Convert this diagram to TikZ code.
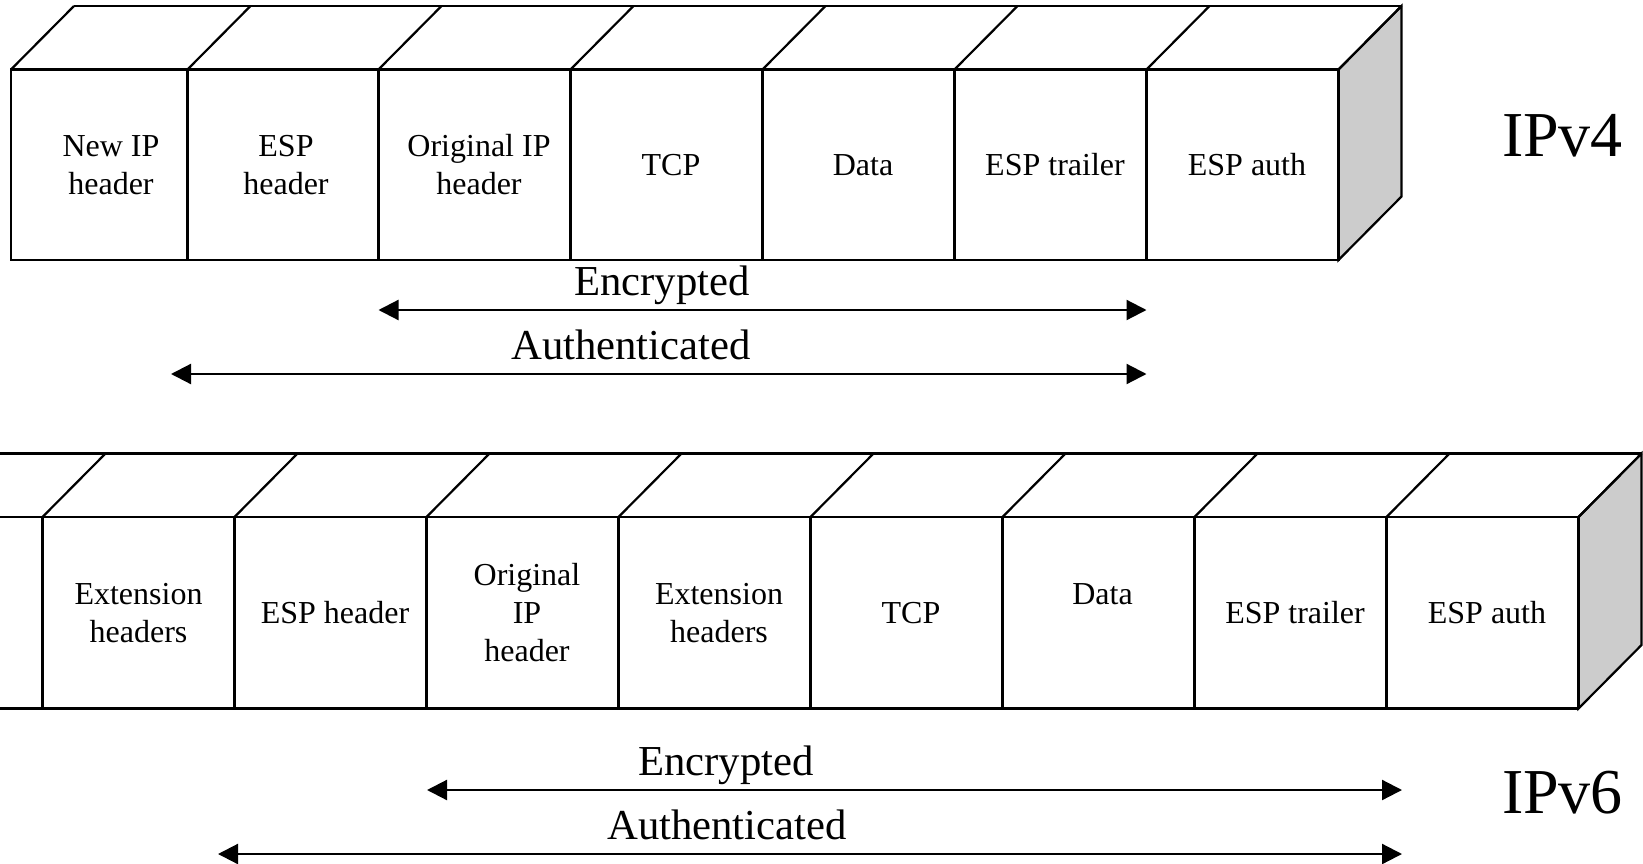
\documentclass[tikz,border=0pt]{standalone}
\usepackage{fontspec}
\setmainfont{Liberation Serif}
\usetikzlibrary{arrows.meta}
\definecolor{sideface}{RGB}{204,204,204}
\tikzset{
  edge/.style={line width=2.2pt, line join=miter},
  celltext/.style={font=\fontsize{32}{38}\selectfont, align=center, inner sep=0pt},
  rangetext/.style={font=\fontsize{42.7}{50}\selectfont, anchor=base, inner sep=0pt},
  versiontext/.style={font=\fontsize{64}{76}\selectfont, anchor=base, inner sep=0pt},
  span/.style={line width=2.2pt, {Triangle[length=20pt,width=20pt]}-{Triangle[length=20pt,width=20pt]}}
}
\begin{document}
\begin{tikzpicture}[x=1pt,y=-1pt]
\useasboundingbox (0,0) rectangle (1643,864);

% ---------- IPv4 packet (tunnel mode) ----------
\filldraw[edge, fill=sideface] (1338.5,69.5) -- (1401.5,6) -- (1401.5,196.5) -- (1338.5,260) -- cycle;
\draw[edge] (74,6) -- (1401.5,6);
\draw[edge] (11,69.5) rectangle (1338.5,260);
\foreach \x in {11,187.5,378.5,570.5,762.5,954.5,1146.5,1338.5}{
  \draw[edge] (\x,69.5) -- ++(63,-63.5);
  \draw[edge] (\x,69.5) -- (\x,260);
}
\node[celltext] (v4a) at (111,164.7) {New IP\\header};
\node[celltext] (v4b) at (286,164.7) {ESP\\header};
\node[celltext] (v4c) at (479,164.7) {Original IP\\header};
\node[celltext] (v4d) at (671,164.7) {TCP};
\node[celltext] (v4e) at (863,164.7) {Data};
\node[celltext] (v4f) at (1055,164.7) {ESP trailer};
\node[celltext] (v4g) at (1247,164.7) {ESP auth};
\node[versiontext] (v4) at (1562.5,157) {IPv4};

\coordinate (v4encL) at (378.5,310);
\coordinate (v4encR) at (1146.5,310);
\coordinate (v4autL) at (171,374);
\coordinate (v4autR) at (1146.5,374);
\draw[span] (v4encL) -- (v4encR);
\draw[span] (v4autL) -- (v4autR);
\node[rangetext] (v4enc) at (662,295) {Encrypted};
\node[rangetext] (v4aut) at (631,359.5) {Authenticated};

% ---------- IPv6 packet (tunnel mode) ----------
\filldraw[edge, fill=sideface] (1578.5,517) -- (1641.5,453.5) -- (1641.5,645) -- (1578.5,708.5) -- cycle;
\draw[edge] (0,453.5) -- (1641.5,453.5);
\draw[edge] (0,517) -- (1578.5,517);
\draw[edge] (0,708.5) -- (1578.5,708.5);
\foreach \k in {0,...,8}{
  \pgfmathsetmacro{\x}{42.5+192*\k}
  \draw[edge] (\x,517) -- ++(63,-63.5);
  \draw[edge] (\x,517) -- (\x,708.5);
}
\node[celltext] (v6a) at (138.5,612.7) {Extension\\headers};
\node[celltext] (v6b) at (335,612.7) {ESP header};
\node[celltext] (v6c) at (527,612.7) {Original\\IP\\header};
\node[celltext] (v6d) at (719,612.7) {Extension\\headers};
\node[celltext] (v6e) at (911,612.7) {TCP};
\node[celltext, anchor=base] (v6f) at (1102.5,604.5) {Data};
\node[celltext] (v6g) at (1295,612.7) {ESP trailer};
\node[celltext] (v6h) at (1487,612.7) {ESP auth};
\node[versiontext] (v6) at (1562.5,813) {IPv6};

\coordinate (v6encL) at (427,790);
\coordinate (v6encR) at (1402,790);
\coordinate (v6autL) at (218,854);
\coordinate (v6autR) at (1402,854);
\draw[span] (v6encL) -- (v6encR);
\draw[span] (v6autL) -- (v6autR);
\node[rangetext] (v6enc) at (726,775) {Encrypted};
\node[rangetext] (v6aut) at (727,839.5) {Authenticated};
\end{tikzpicture}
\end{document}
